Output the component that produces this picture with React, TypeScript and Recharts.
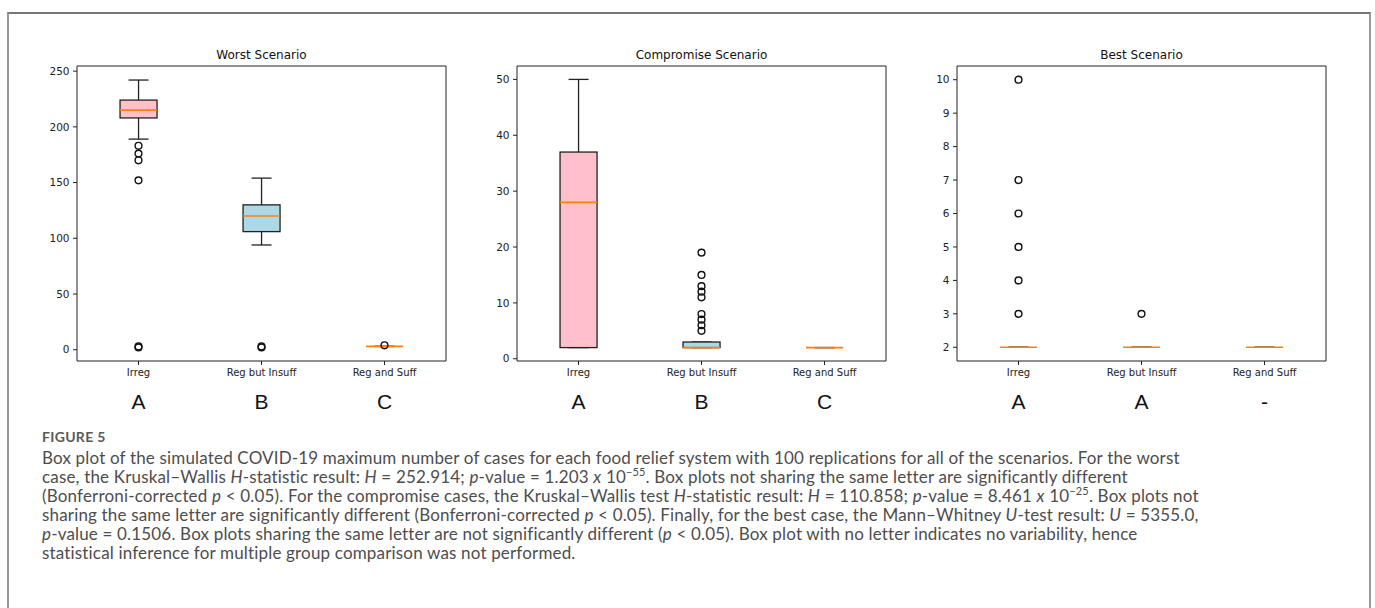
import React from "react";
import { Bar, ComposedChart, Scatter, XAxis, YAxis } from "recharts";

const categories = ["Irreg", "Reg but Insuff", "Reg and Suff"];
const boxFills = ["#ffc0cb", "#add8e6", "#90ee90"];

// worst scenario
const worstLow = [189, 94, 3];
const worstQ1 = [208, 106, 3];
const worstMedian = [215, 120, 3];
const worstQ3 = [224, 130, 3];
const worstHigh = [242, 154, 3];
const worstOutliers = [[183, 176, 170, 152, 3, 2], [3, 2], [4]];
const worstTicks = [0, 50, 100, 150, 200, 250];
const worstLetters = ["A", "B", "C"];

// compromise scenario
const compLow = [2, 2, 2];
const compQ1 = [2, 2, 2];
const compMedian = [28, 2, 2];
const compQ3 = [37, 3, 2];
const compHigh = [50, 3, 2];
const compOutliers = [[], [19, 15, 13, 12, 11, 8, 7, 6, 5], []];
const compTicks = [0, 10, 20, 30, 40, 50];
const compLetters = ["A", "B", "C"];

// best scenario
const bestLow = [2, 2, 2];
const bestQ1 = [2, 2, 2];
const bestMedian = [2, 2, 2];
const bestQ3 = [2, 2, 2];
const bestHigh = [2, 2, 2];
const bestOutliers = [[10, 7, 6, 5, 4, 3], [3], []];
const bestTicks = [2, 3, 4, 5, 6, 7, 8, 9, 10];
const bestLetters = ["A", "A", "-"];

type Row = { name: string; low: number; q1: number; median: number; q3: number; high: number; fill: string };

function buildRows(low: number[], q1: number[], med: number[], q3: number[], high: number[]): Row[] {
  return categories.map((name, i) => ({
    name,
    low: low[i],
    q1: q1[i],
    median: med[i],
    q3: q3[i],
    high: high[i],
    fill: boxFills[i],
  }));
}

function buildOutliers(groups: number[][]) {
  const pts: { pos: number; value: number }[] = [];
  groups.forEach((g, i) => g.forEach((v) => pts.push({ pos: i + 1, value: v })));
  return pts;
}

// draws whiskers, box and median inside the range bar [low, high]
function BoxShape(props: any) {
  const { x, y, width, height, payload } = props;
  const top = Math.min(y, y + height);
  const bottom = Math.max(y, y + height);
  const span = payload.high - payload.low;
  const py = (v: number) => (span === 0 ? top : top + ((bottom - top) * (payload.high - v)) / span);
  const cx = x + width / 2;
  const cap = width * 0.27;
  const yq1 = py(payload.q1);
  const yq3 = py(payload.q3);
  const ym = py(payload.median);
  return (
    <g>
      <line x1={cx} x2={cx} y1={top} y2={yq3} stroke="#222" strokeWidth={1.3} />
      <line x1={cx} x2={cx} y1={yq1} y2={bottom} stroke="#222" strokeWidth={1.3} />
      <line x1={cx - cap} x2={cx + cap} y1={top} y2={top} stroke="#222" strokeWidth={1.3} />
      <line x1={cx - cap} x2={cx + cap} y1={bottom} y2={bottom} stroke="#222" strokeWidth={1.3} />
      <rect x={x} y={yq3} width={width} height={Math.max(0, yq1 - yq3)} fill={payload.fill} stroke="#222" strokeWidth={1.3} />
      <line x1={x} x2={x + width} y1={ym} y2={ym} stroke="#ff7f0e" strokeWidth={1.6} />
    </g>
  );
}

function OutlierShape(props: any) {
  return <circle cx={props.cx} cy={props.cy} r={3.4} fill="none" stroke="#111" strokeWidth={1.4} />;
}

function YTick(props: any) {
  const { x, y, payload } = props;
  return (
    <text x={x - 1.5} y={y + 3.7} textAnchor="end" fontSize={10.5} fill="#222" fontFamily="DejaVu Sans">
      {payload.value}
    </text>
  );
}

function makeTick(letters: string[]) {
  return function CatTick(props: any) {
    const { x, y, payload } = props;
    const i = categories.indexOf(payload.value);
    return (
      <g>
        <text x={x} y={y + 9} textAnchor="middle" fontSize={10} fill="#222" fontFamily="DejaVu Sans">
          {payload.value}
        </text>
        <text x={x} y={y + 42} textAnchor="middle" fontSize={21} fill="#111" fontFamily="Liberation Sans">
          {letters[i]}
        </text>
      </g>
    );
  };
}

interface PanelProps {
  title: string;
  left: number;
  rows: Row[];
  outliers: { pos: number; value: number }[];
  domain: [number, number];
  ticks: number[];
  letters: string[];
}

function Panel({ title, left, rows, outliers, domain, ticks, letters }: PanelProps) {
  const W = 421;
  const H = 381;
  return (
    <div style={{ position: "absolute", left, top: 40, width: W, height: H }}>
      <div
        style={{
          position: "absolute",
          left: 50,
          width: 369,
          top: 8,
          textAlign: "center",
          fontFamily: "DejaVu Sans",
          fontSize: 12,
          color: "#111",
        }}
      >
        {title}
      </div>
      <ComposedChart width={W} height={H} data={rows} margin={{ top: 25, right: 1, bottom: 0, left: 0 }} barCategoryGap="35%">
        <XAxis
          dataKey="name"
          interval={0}
          height={60}
          tickSize={4}
          tick={makeTick(letters)}
          axisLine={{ stroke: "#222" }}
          tickLine={{ stroke: "#222" }}
        />
        <XAxis
          xAxisId="num"
          orientation="top"
          type="number"
          dataKey="pos"
          domain={[0.5, 3.5]}
          allowDataOverflow
          height={1}
          tick={false}
          tickLine={false}
          axisLine={{ stroke: "#222" }}
        />
        <YAxis
          type="number"
          domain={domain}
          ticks={ticks}
          allowDataOverflow
          width={50}
          tickSize={4}
          tick={<YTick />}
          axisLine={{ stroke: "#222" }}
          tickLine={{ stroke: "#222" }}
        />
        <YAxis
          yAxisId="r"
          orientation="right"
          type="number"
          domain={domain}
          allowDataOverflow
          width={1}
          tick={false}
          tickLine={false}
          axisLine={{ stroke: "#222" }}
        />
        <Bar dataKey={(d: Row) => [d.low, d.high]} shape={<BoxShape />} isAnimationActive={false} />
        <Scatter data={outliers} xAxisId="num" dataKey="value" shape={<OutlierShape />} isAnimationActive={false} />
      </ComposedChart>
    </div>
  );
}

const captionStyle: React.CSSProperties = {
  position: "absolute",
  left: 42,
  whiteSpace: "nowrap",
  fontFamily: "Lato",
  fontSize: 17,
  letterSpacing: 0.17,
  color: "#4d4d4d",
  lineHeight: "19px",
};

const supStyle: React.CSSProperties = { fontSize: 11, lineHeight: 0 };

export default function App() {
  return (
    <div style={{ position: "absolute", left: 0, top: 0, width: 1375, height: 608, background: "#fff", overflow: "hidden" }}>
      <div
        style={{
          position: "absolute",
          left: 7,
          top: 12,
          width: 1360,
          height: 620,
          borderTop: "2px solid #777",
          borderLeft: "2px solid #999",
          borderRight: "2px solid #999",
        }}
      />
      <Panel
        title="Worst Scenario"
        left={27}
        rows={buildRows(worstLow, worstQ1, worstMedian, worstQ3, worstHigh)}
        outliers={buildOutliers(worstOutliers)}
        domain={[-10.1, 254.6]}
        ticks={worstTicks}
        letters={worstLetters}
      />
      <Panel
        title="Compromise Scenario"
        left={467}
        rows={buildRows(compLow, compQ1, compMedian, compQ3, compHigh)}
        outliers={buildOutliers(compOutliers)}
        domain={[-0.4, 52.4]}
        ticks={compTicks}
        letters={compLetters}
      />
      <Panel
        title="Best Scenario"
        left={907}
        rows={buildRows(bestLow, bestQ1, bestMedian, bestQ3, bestHigh)}
        outliers={buildOutliers(bestOutliers)}
        domain={[1.59, 10.41]}
        ticks={bestTicks}
        letters={bestLetters}
      />
      <div style={{ ...captionStyle, top: 429, fontSize: 14, letterSpacing: 0.3, lineHeight: "16px", fontWeight: 700, color: "#5a5a5a" }}>
        FIGURE 5
      </div>
      <div style={{ ...captionStyle, top: 448 }}>
        Box plot of the simulated COVID-19 maximum number of cases for each food relief system with 100 replications for all of the scenarios. For the worst
      </div>
      <div style={{ ...captionStyle, top: 467 }}>
        case, the Kruskal–Wallis <i>H</i>-statistic result: <i>H</i> = 252.914; <i>p</i>-value = 1.203 <i>x</i> 10
        <sup style={supStyle}>−55</sup>. Box plots not sharing the same letter are significantly different
      </div>
      <div style={{ ...captionStyle, top: 486 }}>
        (Bonferroni-corrected <i>p</i> &lt; 0.05). For the compromise cases, the Kruskal–Wallis test <i>H</i>-statistic result: <i>H</i> = 110.858;{" "}
        <i>p</i>-value = 8.461 <i>x</i> 10<sup style={supStyle}>−25</sup>. Box plots not
      </div>
      <div style={{ ...captionStyle, top: 505 }}>
        sharing the same letter are significantly different (Bonferroni-corrected <i>p</i> &lt; 0.05). Finally, for the best case, the Mann–Whitney{" "}
        <i>U</i>-test result: <i>U</i> = 5355.0,
      </div>
      <div style={{ ...captionStyle, top: 524 }}>
        <i>p</i>-value = 0.1506. Box plots sharing the same letter are not significantly different (<i>p</i> &lt; 0.05). Box plot with no letter indicates
        no variability, hence
      </div>
      <div style={{ ...captionStyle, top: 543 }}>statistical inference for multiple group comparison was not performed.</div>
    </div>
  );
}
